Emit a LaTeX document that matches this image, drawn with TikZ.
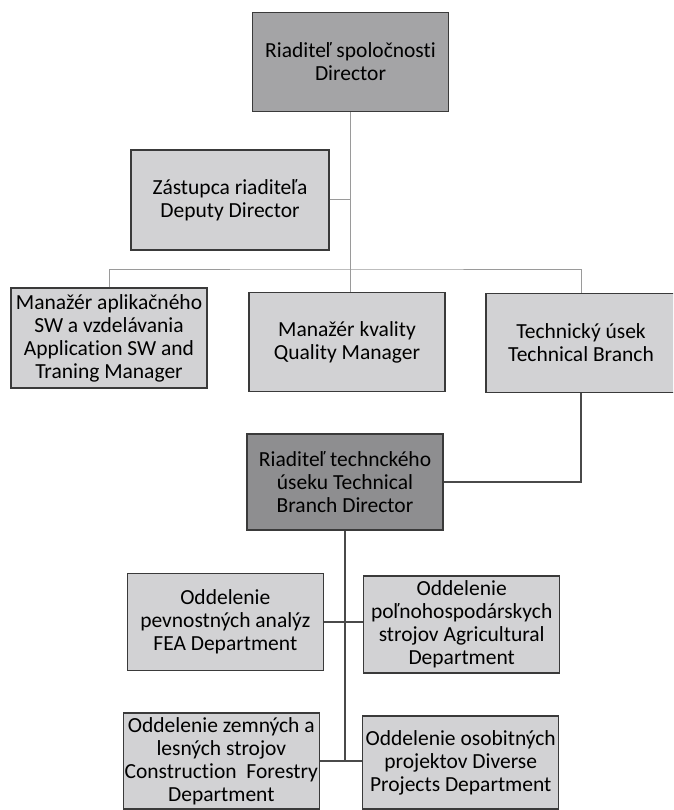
\documentclass[tikz,border=0pt]{standalone}
\usepackage{fontspec}
\setmainfont{Carlito}[Ligatures=NoCommon]
\definecolor{boxlight}{HTML}{D2D2D4}
\definecolor{boxmid}{HTML}{A4A4A6}
\definecolor{boxdark}{HTML}{8E8E90}
\definecolor{edge}{HTML}{3A3A3A}
\definecolor{linelight}{HTML}{9A9A9A}
\definecolor{linedark}{HTML}{4A4A4A}
\tikzset{
  orgbox/.style={draw=edge, line width=1.4pt, fill=boxlight, align=center,
    inner sep=0pt, minimum width=196pt, minimum height=99pt,
    font=\fontsize{21.5}{23}\selectfont, text=black},
  topbox/.style={orgbox, fill=boxmid},
  tdbox/.style={orgbox, fill=boxdark},
  conlight/.style={draw=linelight, line width=1pt},
  condark/.style={draw=linedark, line width=1.2pt},
}
\begin{document}
\begin{tikzpicture}[x=1pt,y=-1pt]
\useasboundingbox (0,0) rectangle (673,810);
\fill[white] (0,0) rectangle (673,810);
\clip (0,0) rectangle (673,810);

\node[topbox] (dir) at (350.5,62) {Riaditeľ spoločnosti\\Director};
\node[orgbox, minimum width=198pt, minimum height=100pt] (dep) at (230,200) {Zástupca riaditeľa\\Deputy Director};
\node[orgbox, minimum height=100pt] (b1) at (109,338) {Manažér aplikačného\\SW a vzdelávania\\Application SW and\\Traning Manager};
\node[orgbox] (b2) at (347,342) {Manažér kvality\\Quality Manager};
\node[orgbox, minimum width=190pt] (b3) at (581,343) {Technický úsek\\Technical Branch};
\node[tdbox, minimum height=96pt] (tbd) at (345,482) {Riaditeľ technckého\\úseku Technical\\Branch Director};
\node[orgbox, minimum height=97pt] (fea) at (324,622) [anchor=east] {Oddelenie\\pevnostných analýz\\FEA Department};
\node[orgbox, minimum height=97pt] (agr) at (363,624.5) [anchor=west] {Oddelenie\\poľnohospodárskych\\strojov Agricultural\\Department};
\node[orgbox, minimum height=96pt] (con) at (320,761) [anchor=east] {Oddelenie zemných a\\lesných strojov\\Construction\ \ Forestry\\Department};
\node[orgbox, minimum height=93pt] (div) at (362,762.5) [anchor=west] {Oddelenie osobitných\\projektov Diverse\\Projects Department};

\coordinate (bar) at (348,269);
\draw[conlight] (dir.south) -- (dir.south |- b2.north);
\draw[conlight] (dep.east) -- (dep.east -| dir.south);
\draw[conlight] (b1.north) |- (bar) -| (b3.north);
\draw[condark] (b3.south) |- (tbd.east);
\draw[condark] (tbd.south) -- (tbd.south |- con.east);
\draw[condark] (fea.east) -- (fea.east -| agr.west);
\draw[condark] (con.east) -- (con.east -| div.west);
\end{tikzpicture}
\end{document}
